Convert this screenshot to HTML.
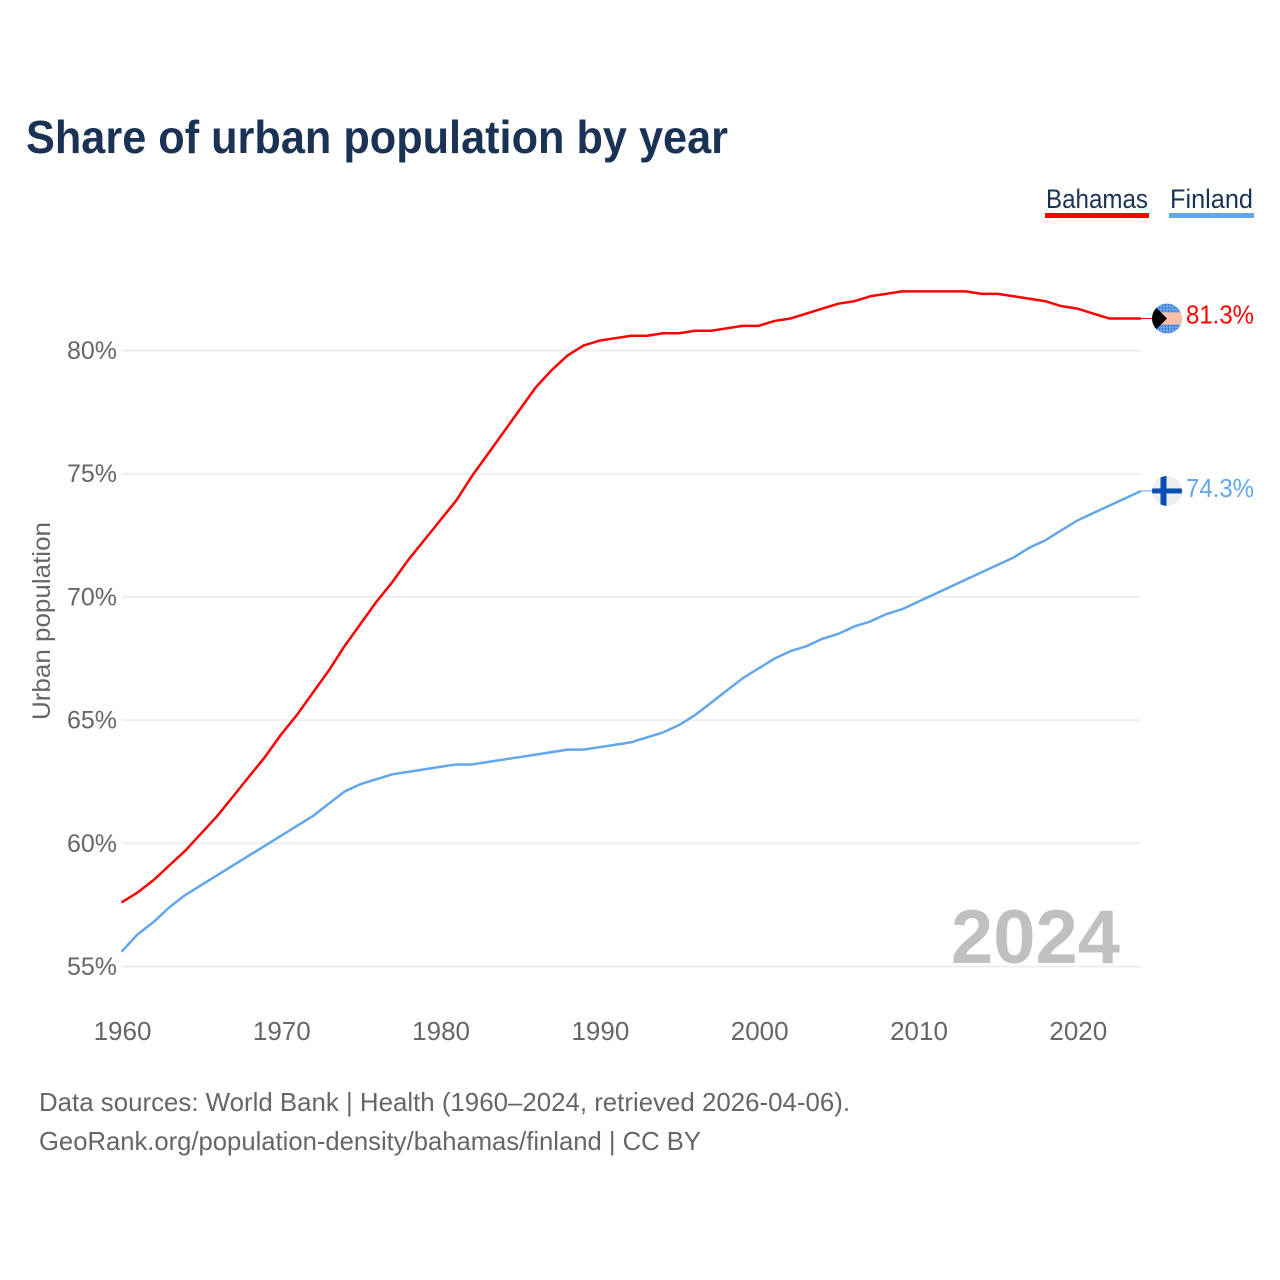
<!DOCTYPE html>
<html lang="en">
<head>
<meta charset="utf-8">
<title>Share of urban population by year</title>
<style>
  html, body { margin: 0; padding: 0; background: #fff; }
  svg { display: block; }
  text { font-family: "Liberation Sans", sans-serif; }
</style>
</head>
<body>
<svg id="chart" xmlns="http://www.w3.org/2000/svg" width="1280" height="1280" viewBox="0 0 1280 1280">
  <defs>
    <clipPath id="flag-clip-circle"><circle cx="0" cy="0" r="15"></circle></clipPath>
    <pattern id="bahamas-dots" width="3" height="3" patternUnits="userSpaceOnUse">
      <rect width="3" height="3" fill="#62a6ec"></rect>
      <circle cx="1.5" cy="1.5" r="0.7" fill="#2a62b0"></circle>
    </pattern>
  </defs>
  <rect x="0" y="0" width="1280" height="1280" fill="#ffffff"></rect>

  <text x="26" y="153" font-size="46" font-weight="700" fill="#1a3354" textLength="702" lengthAdjust="spacingAndGlyphs">Share of urban population by year</text>

  <g>
    <g>
      <text x="1046" y="208" font-size="27" fill="#1a3354" textLength="102" lengthAdjust="spacingAndGlyphs">Bahamas</text>
      <rect x="1045" y="213" width="104" height="5" fill="#ff0000"></rect>
    </g>
    <g>
      <text x="1170" y="208" font-size="27" fill="#1a3354" textLength="83" lengthAdjust="spacingAndGlyphs">Finland</text>
      <rect x="1169" y="213" width="85" height="5" fill="#62a6ec"></rect>
    </g>
  </g>

  <g id="grid"></g>
  <g id="y-ticks"></g>
  <g id="x-ticks"></g>

  <text transform="translate(50,621) rotate(-90)" text-anchor="middle" font-size="25" fill="#666666" textLength="198" lengthAdjust="spacingAndGlyphs">Urban population</text>

  <text id="year-label" x="1120" y="963" text-anchor="end" font-size="76" font-weight="700" fill="#c0c0c0"></text>

  <g id="series"></g>
  <g id="ends"></g>

  <text x="39" y="1111" font-size="26" fill="#666666" textLength="811" lengthAdjust="spacingAndGlyphs">Data sources: World Bank | Health (1960–2024, retrieved 2026-04-06).</text>
  <text x="39" y="1150" font-size="26" fill="#666666" textLength="662" lengthAdjust="spacingAndGlyphs">GeoRank.org/population-density/bahamas/finland | CC BY</text>
</svg>

<script>
const years = [1960,1961,1962,1963,1964,1965,1966,1967,1968,1969,1970,1971,1972,1973,1974,1975,1976,1977,1978,1979,1980,1981,1982,1983,1984,1985,1986,1987,1988,1989,1990,1991,1992,1993,1994,1995,1996,1997,1998,1999,2000,2001,2002,2003,2004,2005,2006,2007,2008,2009,2010,2011,2012,2013,2014,2015,2016,2017,2018,2019,2020,2021,2022,2023,2024];
const bahamasValues = [57.6,58.0,58.5,59.1,59.7,60.4,61.1,61.9,62.7,63.5,64.4,65.2,66.1,67.0,68.0,68.9,69.8,70.6,71.5,72.3,73.1,73.9,74.9,75.8,76.7,77.6,78.5,79.2,79.8,80.2,80.4,80.5,80.6,80.6,80.7,80.7,80.8,80.8,80.9,81.0,81.0,81.2,81.3,81.5,81.7,81.9,82.0,82.2,82.3,82.4,82.4,82.4,82.4,82.4,82.3,82.3,82.2,82.1,82.0,81.8,81.7,81.5,81.3,81.3,81.3];
const finlandValues = [55.6,56.3,56.8,57.4,57.9,58.3,58.7,59.1,59.5,59.9,60.3,60.7,61.1,61.6,62.1,62.4,62.6,62.8,62.9,63.0,63.1,63.2,63.2,63.3,63.4,63.5,63.6,63.7,63.8,63.8,63.9,64.0,64.1,64.3,64.5,64.8,65.2,65.7,66.2,66.7,67.1,67.5,67.8,68.0,68.3,68.5,68.8,69.0,69.3,69.5,69.8,70.1,70.4,70.7,71.0,71.3,71.6,72.0,72.3,72.7,73.1,73.4,73.7,74.0,74.3];
const yTickValues = [55,60,65,70,75,80];
const xTickYears = [1960,1970,1980,1990,2000,2010,2020];

const NS = 'http://www.w3.org/2000/svg';
const xScale = function (year) { return 121.5 + (year - 1960) * (1141 - 121.5) / 64; };
const yScale = function (value) { return 966.5 - (value - 55) * 24.64; };

function make(tag, parent, props, content) {
  const node = document.createElementNS(NS, tag);
  Object.keys(props).forEach(function (key) { node.setAttribute(key, props[key]); });
  if (content !== undefined) { node.textContent = content; }
  parent.appendChild(node);
  return node;
}

const gridGroup = document.getElementById('grid');
const yTickGroup = document.getElementById('y-ticks');
yTickValues.forEach(function (value) {
  const line = make('line', gridGroup, { x1: 122, x2: 1141, y1: yScale(value), y2: yScale(value), stroke: '#eeeeee', 'stroke-width': 2 });
  
  
  const label = make('text', yTickGroup, { x: 117, y: yScale(value) + 8.5, 'text-anchor': 'end', 'font-size': 25, fill: '#666666' }, value + '%');
  
  
});

const xTickGroup = document.getElementById('x-ticks');
xTickYears.forEach(function (year) {
  const label = make('text', xTickGroup, { x: xScale(year) + 1, y: 1040, 'text-anchor': 'middle', 'font-size': 26, fill: '#666666' }, String(year));
  
  
});

document.getElementById('year-label').textContent = String(years[years.length - 1]);

function linePoints(values) {
  return values.map(function (value, i) { return xScale(years[i]).toFixed(2) + ',' + yScale(value).toFixed(2); }).join(' ');
}

const seriesGroup = document.getElementById('series');
const bahamasLine = make('polyline', seriesGroup, { points: linePoints(bahamasValues), fill: 'none', stroke: '#ff0000', 'stroke-width': 2.5, 'stroke-linejoin': 'round' });


const finlandLine = make('polyline', seriesGroup, { points: linePoints(finlandValues), fill: 'none', stroke: '#62a6ec', 'stroke-width': 2.5, 'stroke-linejoin': 'round' });



const endGroup = document.getElementById('ends');

const lastBahamas = bahamasValues[bahamasValues.length - 1];
const bahamasConnector = make('line', endGroup, { x1: xScale(2024), x2: 1153, y1: yScale(lastBahamas), y2: yScale(lastBahamas), stroke: '#ff0000', 'stroke-width': 1 });


const bahamasFlag = make('g', endGroup, { transform: 'translate(1167,' + yScale(lastBahamas) + ')', 'clip-path': 'url(#flag-clip-circle)' });


make('rect', bahamasFlag, { x: -15, y: -15, width: 30, height: 30, fill: 'url(#bahamas-dots)' });
make('rect', bahamasFlag, { x: -15, y: -6, width: 30, height: 12, fill: '#fdbfa8' });
make('polygon', bahamasFlag, { points: '-15,-15 0,0 -15,15', fill: '#000000' });
const bahamasValueLabel = make('text', endGroup, { x: 1254, y: yScale(lastBahamas) + 5, 'text-anchor': 'end', 'font-size': 26, fill: '#ff0000', textLength: 68, lengthAdjust: 'spacingAndGlyphs' }, lastBahamas.toFixed(1) + '%');



const lastFinland = finlandValues[finlandValues.length - 1];
const finlandConnector = make('line', endGroup, { x1: xScale(2024), x2: 1153, y1: yScale(lastFinland), y2: yScale(lastFinland), stroke: '#62a6ec', 'stroke-width': 1 });


const finlandFlag = make('g', endGroup, { transform: 'translate(1167,' + yScale(lastFinland) + ')', 'clip-path': 'url(#flag-clip-circle)' });


make('rect', finlandFlag, { x: -15, y: -15, width: 30, height: 30, fill: '#eeeeef' });
make('rect', finlandFlag, { x: -15, y: -2.5, width: 30, height: 5, fill: '#0a50b0' });
make('rect', finlandFlag, { x: -6.5, y: -15, width: 6, height: 30, fill: '#0a50b0' });
const finlandValueLabel = make('text', endGroup, { x: 1254, y: yScale(lastFinland) + 6, 'text-anchor': 'end', 'font-size': 26, fill: '#62a6ec', textLength: 68, lengthAdjust: 'spacingAndGlyphs' }, lastFinland.toFixed(1) + '%');


</script>
</body>
</html>
